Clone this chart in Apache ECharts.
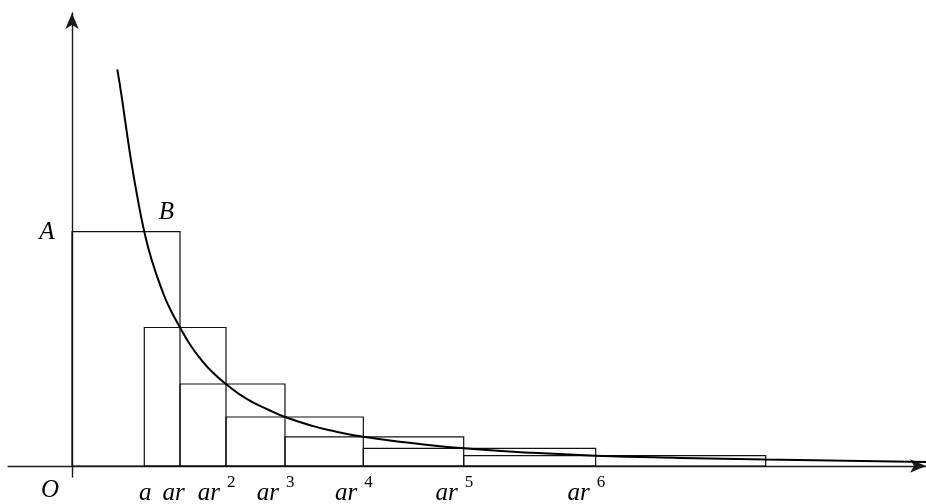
<!DOCTYPE html>
<html>
<head>
<meta charset="utf-8">
<script src="https://cdn.jsdelivr.net/npm/echarts@6/dist/echarts.min.js"></script>
<style>
  html, body { margin: 0; padding: 0; background: #fff; }
  #chart { width: 926px; height: 504px; }
</style>
</head>
<body>
<div id="chart"></div>
<script>
  // tick positions a, ar, ar^2 ... ar^7 (last one has no label)
  var xPoints = [7.23, 10.8, 15.4, 21.3, 29.13, 39.17, 52.37, 69.37];
  // curve height at a, ar, ... ar^6
  var heights = [23.43, 13.85, 8.2, 4.9, 2.92, 1.77, 1.03];
  var tickBase = ['a', 'ar', 'ar', 'ar', 'ar', 'ar', 'ar'];
  var tickPow = ['', '', '2', '3', '4', '5', '6'];

  // points
  var curveX = [4.53, 4.92, 5.4, 5.9, 6.47, 7.23, 7.97, 9.13, 9.8, 10.8, 11.8, 12.8, 14.0, 15.4, 17.47, 19.8, 21.3, 24.13, 25.8, 29.13, 34.13, 39.17, 45.8, 52.37, 60.8, 69.37, 85.4];
  var curveY = [39.67, 37.27, 33.93, 30.6, 27.27, 23.43, 20.6, 17.25, 15.72, 13.85, 12.15, 10.78, 9.43, 8.2, 6.71, 5.55, 4.9, 3.99, 3.57, 2.92, 2.28, 1.77, 1.33, 1.03, 0.81, 0.65, 0.4];

  var serif = '"Liberation Serif", "DejaVu Serif", serif';
  var axisColor = '#1a1a1a';

  var chart = echarts.init(document.getElementById('chart'));

  var curveData = curveX.map(function (x, i) { return [x, curveY[i]]; });
  var rectData = heights.map(function (h, i) { return [i]; });
  var labelData = tickBase.map(function (t, i) { return [xPoints[i], 0, i]; });

  var italic = { fontFamily: serif, fontStyle: 'italic', fontSize: 25, fill: '#000', verticalAlign: 'middle' };

  var option = {
    animation: false,
    grid: {
      left: 8,
      right: 0,
      top: 13,
      bottom: 27,
      outerBoundsMode: 'none'
    },
    xAxis: {
      type: 'value',
      min: -6.4,
      max: 85.4,
      splitLine: { show: false },
      axisTick: { show: false },
      axisLabel: { show: false },
      axisLine: {
        show: true,
        onZero: true,
        symbol: ['none', 'arrow'],
        symbolSize: [10, 16],
        lineStyle: { color: axisColor, width: 1.4 }
      }
    },
    yAxis: {
      type: 'value',
      min: -1.1,
      max: 45.3,
      splitLine: { show: false },
      axisTick: { show: false },
      axisLabel: { show: false },
      axisLine: {
        show: true,
        onZero: true,
        symbol: ['none', 'arrow'],
        symbolSize: [10, 16],
        lineStyle: { color: axisColor, width: 1.4 }
      }
    },
    series: [
      {
        type: 'custom',
        data: rectData,
        silent: true,
        z: 2,
        renderItem: function (params, api) {
          var k = api.value(0);
          var left = k === 0 ? 0 : xPoints[k - 1];
          var right = xPoints[k + 1];
          var p0 = api.coord([left, heights[k]]);
          var p1 = api.coord([right, 0]);
          return {
            type: 'rect',
            shape: { x: p0[0], y: p0[1], width: p1[0] - p0[0], height: p1[1] - p0[1] },
            style: { fill: 'none', stroke: '#111', lineWidth: 1.2 }
          };
        }
      },
      {
        type: 'line',
        data: curveData,
        smooth: 0.5,
        showSymbol: false,
        silent: true,
        z: 3,
        lineStyle: { color: '#000', width: 2 }
      },
      {
        // tick labels a, ar, ar^2 ...
        type: 'custom',
        data: labelData,
        silent: true,
        z: 4,
        renderItem: function (params, api) {
          var i = api.value(2);
          var p = api.coord([api.value(0), api.value(1)]);
          var children = [];
          if (!tickPow[i]) {
            children.push({
              type: 'text', x: p[0] + (i === 0 ? 1 : -6.5), y: p[1] + 27.5,
              style: Object.assign({ text: tickBase[i], align: 'center' }, italic)
            });
          } else {
            children.push({
              type: 'text', x: p[0] - 6, y: p[1] + 27.5,
              style: Object.assign({ text: tickBase[i], align: 'right' }, italic)
            });
            children.push({
              type: 'text', x: p[0] + 1, y: p[1] + 17,
              style: { text: tickPow[i], align: 'left', verticalAlign: 'middle', fontFamily: serif, fontSize: 17, fill: '#000' }
            });
          }
          return { type: 'group', children: children };
        }
      },
      {
        type: 'custom',
        data: [[0]],
        silent: true,
        z: 4,
        renderItem: function (params, api) {
          var o = api.coord([0, 0]);
          var a = api.coord([0, heights[0]]);
          var b = api.coord([xPoints[0], heights[0]]);
          return {
            type: 'group',
            children: [
              { type: 'text', x: o[0] - 22, y: o[1] + 24, style: Object.assign({ text: 'O', align: 'center' }, italic) },
              { type: 'text', x: b[0] + 22, y: b[1] - 19, style: Object.assign({ text: 'B', align: 'center' }, italic) },
              { type: 'text', x: a[0] - 25, y: a[1] + 1, style: Object.assign({ text: 'A', align: 'center' }, italic) }
            ]
          };
        }
      }
    ]
  };

  chart.setOption(option);
  window.addEventListener('resize', function () {
    chart.resize();
  });
</script>
</body>
</html>
